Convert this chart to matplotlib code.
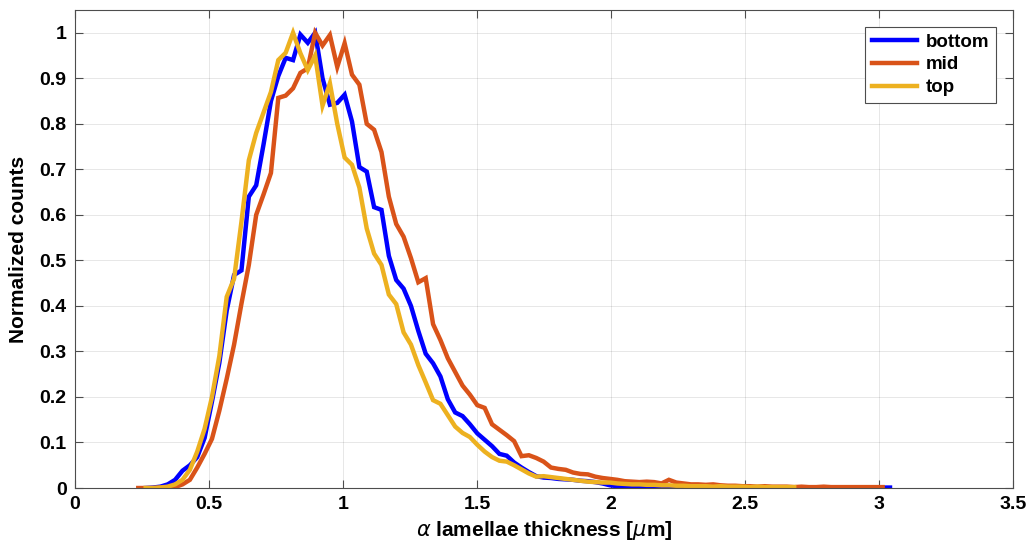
import numpy as np
import matplotlib
matplotlib.use("Agg")
import matplotlib.pyplot as plt

# bin centres shared by all three histograms [um]
bin_start = 0.236
bin_width = 0.0275

# normalized counts
bottom_counts = [
    0.000, 0.001, 0.003, 0.008, 0.018, 0.038, 0.050, 0.068, 0.110, 0.190,
    0.275, 0.390, 0.468, 0.478, 0.640, 0.665, 0.755, 0.850, 0.905, 0.945,
    0.940, 0.996, 0.978, 1.000, 0.900, 0.842, 0.846, 0.864, 0.805, 0.705,
    0.695, 0.617, 0.611, 0.510, 0.457, 0.438, 0.400, 0.345, 0.295, 0.274,
    0.245, 0.195, 0.166, 0.158, 0.140, 0.120, 0.106, 0.092, 0.075, 0.071,
    0.056, 0.045, 0.035, 0.026, 0.023, 0.022, 0.020, 0.019, 0.018, 0.016,
    0.015, 0.013, 0.010, 0.006, 0.004, 0.003, 0.003, 0.002, 0.003, 0.002,
    0.002, 0.002, 0.001, 0.002, 0.001, 0.001, 0.002, 0.001, 0.001, 0.001,
    0.001, 0.002, 0.001, 0.001, 0.001, 0.001, 0.001, 0.001, 0.001, 0.001,
    0.001, 0.001, 0.001, 0.001, 0.001, 0.001, 0.001, 0.001, 0.001, 0.001,
    0.001, 0.001,
]
mid_counts = [
    0.000, 0.000, 0.000, 0.001, 0.001, 0.002, 0.008, 0.018, 0.045, 0.075,
    0.108, 0.170, 0.240, 0.315, 0.405, 0.490, 0.600, 0.645, 0.692, 0.857,
    0.862, 0.878, 0.912, 0.922, 1.000, 0.972, 0.995, 0.925, 0.977, 0.908,
    0.886, 0.800, 0.787, 0.738, 0.640, 0.580, 0.552, 0.505, 0.452, 0.461,
    0.360, 0.325, 0.285, 0.255, 0.225, 0.205, 0.182, 0.176, 0.140, 0.128,
    0.116, 0.103, 0.070, 0.072, 0.066, 0.058, 0.045, 0.042, 0.040, 0.034,
    0.031, 0.030, 0.025, 0.022, 0.020, 0.018, 0.015, 0.014, 0.013, 0.014,
    0.013, 0.010, 0.018, 0.012, 0.010, 0.008, 0.008, 0.007, 0.008, 0.006,
    0.005, 0.005, 0.004, 0.004, 0.003, 0.004, 0.003, 0.003, 0.003, 0.002,
    0.003, 0.002, 0.002, 0.003, 0.002, 0.002, 0.002, 0.002, 0.002, 0.002,
    0.002, 0.002,
]
top_counts = [
    0.000, 0.000, 0.001, 0.003, 0.008, 0.018, 0.040, 0.080, 0.130, 0.200,
    0.290, 0.420, 0.460, 0.585, 0.720, 0.780, 0.825, 0.870, 0.940, 0.956,
    1.000, 0.955, 0.918, 0.950, 0.840, 0.889, 0.800, 0.726, 0.710, 0.660,
    0.570, 0.515, 0.490, 0.425, 0.404, 0.342, 0.315, 0.270, 0.232, 0.193,
    0.185, 0.160, 0.135, 0.121, 0.112, 0.095, 0.080, 0.068, 0.060, 0.058,
    0.050, 0.041, 0.032, 0.025, 0.026, 0.024, 0.022, 0.020, 0.018, 0.016,
    0.014, 0.013, 0.012, 0.012, 0.010, 0.009, 0.008, 0.008, 0.007, 0.007,
    0.006, 0.006, 0.005, 0.005, 0.004, 0.004, 0.004, 0.003, 0.004, 0.003,
    0.003, 0.003, 0.002, 0.003, 0.002, 0.002, 0.002, 0.002, 0.002,
]
# first bin index of each series on the shared grid
bottom_first = 1
mid_first = 0
top_first = 1

labels = ["bottom", "mid", "top"]
colors = ["#0000FF", "#D95319", "#EDB120"]


def bin_centres(first, n):
    return bin_start + bin_width * (first + np.arange(n))


plt.rcParams["font.family"] = ["Liberation Sans", "DejaVu Sans"]
plt.rcParams["mathtext.fontset"] = "dejavusans"

fig = plt.figure(figsize=(10.32, 5.51), dpi=100)
ax = fig.add_axes([0.0727, 0.1143, 0.9089, 0.8675])

series = [(bottom_first, bottom_counts), (mid_first, mid_counts),
          (top_first, top_counts)]
for (first, vals), lab, col in zip(series, labels, colors):
    x = bin_centres(first, len(vals))
    ax.plot(x, vals, color=col, linewidth=3.2, label=lab,
            solid_joinstyle="miter")

ax.set_xlim(0, 3.5)
ax.set_ylim(0, 1.05)
ax.set_xticks(np.arange(0, 3.51, 0.5))
ax.set_xticklabels(["0", "0.5", "1", "1.5", "2", "2.5", "3", "3.5"])
ax.set_yticks(np.arange(0, 1.01, 0.1))
ax.set_yticklabels(["0"] + [f"{v:.1f}" for v in np.arange(0.1, 0.95, 0.1)] + ["1"])

for lab in ax.get_xticklabels() + ax.get_yticklabels():
    lab.set_fontweight("bold")
    lab.set_fontsize(14)

ax.tick_params(direction="in", top=True, right=True, length=6, width=0.8,
               color="#4d4d4d", pad=6)
for sp in ax.spines.values():
    sp.set_color("#4d4d4d")
    sp.set_linewidth(0.8)

ax.grid(True, color="#262626", alpha=0.13, linewidth=0.6)
ax.set_axisbelow(True)

ax.set_xlabel(r"$\alpha$ lamellae thickness [$\mu$m]", fontsize=15,
              fontweight="bold", labelpad=4)
ax.set_ylabel("Normalized counts", fontsize=15, fontweight="bold",
              labelpad=8)

leg = ax.legend(loc="upper right", fontsize=13.5, handlelength=2.4,
                handletextpad=0.5, labelspacing=0.3, borderpad=0.35,
                fancybox=False, framealpha=1, edgecolor="#4d4d4d",
                borderaxespad=0.9)
leg.get_frame().set_linewidth(0.8)
for t in leg.get_texts():
    t.set_fontweight("bold")

fig.savefig("out.png", dpi=100)
